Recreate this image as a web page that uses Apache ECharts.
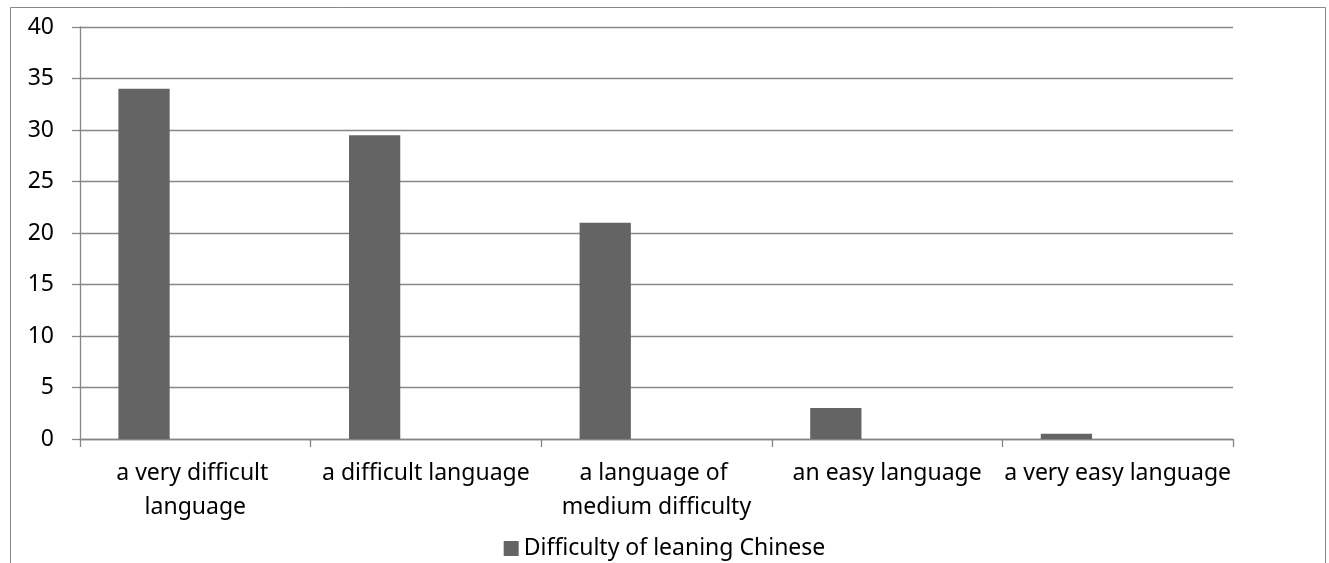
<!DOCTYPE html>
<html>
<head>
<meta charset="utf-8">
<script src="https://cdn.jsdelivr.net/npm/echarts@6/dist/echarts.min.js"></script>
<style>
  html, body { margin: 0; padding: 0; background: #fff; }
  #chart { width: 1329px; height: 563px; }
</style>
</head>
<body>
<div id="chart"></div>
<script>
// Survey answers: how hard learning Chinese is perceived to be
const categories = [
  'a very difficult language',
  'a difficult language',
  'a language of medium difficulty',
  'an easy language',
  'a very easy language'
];
const seriesName = 'Difficulty of leaning Chinese';
const difficultyValues = [34, 29.5, 21, 3, 0.5];
const yTicks = { min: 0, max: 40, step: 5 };

const gridColor = '#868686';
const barColor = '#646464';
const font = 'Noto Sans';
const fontSize = 23;

const chart = echarts.init(document.getElementById('chart'), null, { renderer: 'canvas' });

chart.setOption({
  animation: false,
  backgroundColor: '#fff',
  textStyle: { fontFamily: font, color: '#000' },
  graphic: [{
    type: 'rect',
    shape: { x: 10.5, y: 7.5, width: 1315, height: 600 },
    style: { fill: 'none', stroke: gridColor, lineWidth: 1 },
    silent: true
  }],
  grid: { left: 80, right: 96, top: 27, bottom: 124, containLabel: false },
  legend: {
    data: [seriesName],
    top: 532,
    left: 'center',
    itemWidth: 15,
    itemHeight: 15,
    itemGap: 6,
    icon: 'rect',
    textStyle: { fontFamily: font, fontSize: fontSize, color: '#000' }
  },
  xAxis: {
    type: 'category',
    data: categories,
    axisLine: { show: true, lineStyle: { color: gridColor, width: 1.3 } },
    axisTick: { show: true, length: 8, alignWithLabel: false, lineStyle: { color: gridColor, width: 1.3 } },
    axisLabel: {
      interval: 0,
      margin: 17,
      fontFamily: font,
      fontSize: fontSize,
      lineHeight: 34,
      color: '#000',
      width: 234,
      overflow: 'break'
    }
  },
  yAxis: {
    type: 'value',
    min: yTicks.min,
    max: yTicks.max,
    interval: yTicks.step,
    axisLine: { show: true, lineStyle: { color: gridColor, width: 1.3 } },
    axisTick: { show: true, length: 8, lineStyle: { color: gridColor, width: 1.3 } },
    splitLine: { show: true, lineStyle: { color: gridColor, width: 1.3 } },
    axisLabel: { margin: 26, fontFamily: font, fontSize: fontSize, color: '#000' }
  },
  series: [
    {
      name: seriesName,
      type: 'bar',
      data: difficultyValues,
      itemStyle: { color: barColor },
      barGap: '0%',
      barCategoryGap: '33.3%'
    },
    { name: 'empty-2', type: 'bar', data: [], barGap: '0%', barCategoryGap: '33.3%' },
    { name: 'empty-3', type: 'bar', data: [], barGap: '0%', barCategoryGap: '33.3%' }
  ]
});
</script>
</body>
</html>
